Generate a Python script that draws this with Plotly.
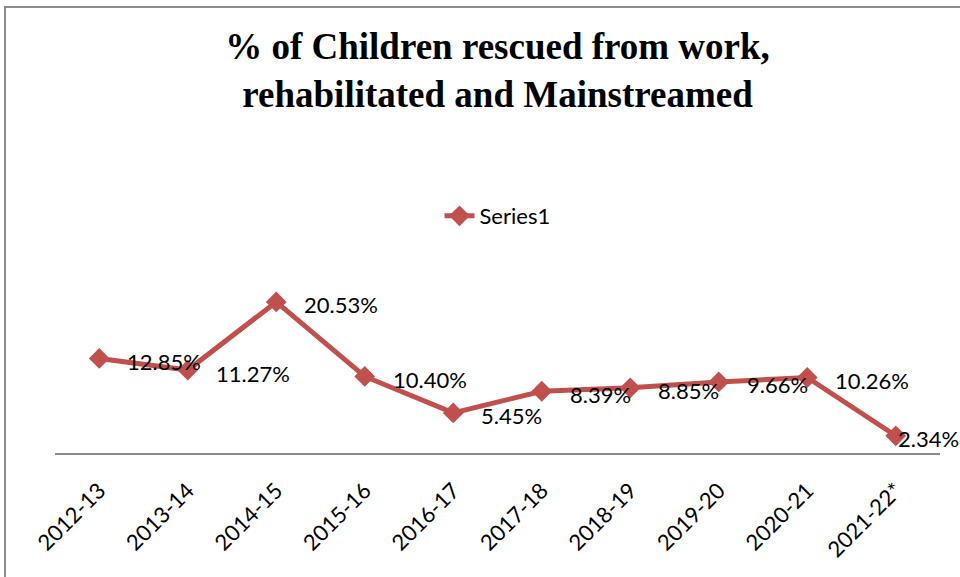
import plotly.graph_objects as go

categories = ["2012-13", "2013-14", "2014-15", "2015-16", "2016-17",
              "2017-18", "2018-19", "2019-20", "2020-21", "2021-22*"]
values = [12.85, 11.27, 20.53, 10.40, 5.45, 8.39, 8.85, 9.66, 10.26, 2.34]
series_name = "Series1"
title_lines = ["% of Children rescued from work,", "rehabilitated and Mainstreamed"]

red = "#C0504D"
label_font = dict(family="Lato, Carlito, Calibri, sans-serif", size=22, color="#000000")

fig = go.Figure()
fig.add_trace(go.Scatter(
    x=categories, y=values, name=series_name,
    mode="lines+markers",
    line=dict(color=red, width=5),
    marker=dict(symbol="diamond", size=16, color=red),
    showlegend=True,
))

n = len(categories)
for i, (c, v) in enumerate(zip(categories, values)):
    shift = 26 if i < n - 1 else 0
    fig.add_annotation(x=c, y=v, text=f"{v:.2f}%", showarrow=False,
                       xanchor="left", yanchor="middle", xshift=shift, yshift=-3,
                       font=label_font)

L, R, T, B = 55, 20, 269, 124
W, H = 960, 577
pw, ph = W - L - R, H - T - B

def px_to_paper_x(px):
    return (px - L) / pw

def px_to_paper_y(py):
    return (H - B - py) / ph

fig.add_shape(type="rect", xref="paper", yref="paper",
              x0=px_to_paper_x(5), x1=px_to_paper_x(975),
              y0=px_to_paper_y(600), y1=px_to_paper_y(7),
              line=dict(color="#8C8C8C", width=2), fillcolor="rgba(0,0,0,0)",
              layer="below")

fig.update_layout(
    width=W, height=H,
    margin=dict(l=L, r=R, t=T, b=B),
    paper_bgcolor="white", plot_bgcolor="white",
    title=dict(text="<br>".join(title_lines), x=0.5, xref="paper",
               y=1 - 59 / H, yanchor="middle",
               font=dict(family="Liberation Serif, Times New Roman, serif", size=37,
                         color="#000000", weight="bold")),
    legend=dict(orientation="h", x=0.5, xanchor="center",
                y=px_to_paper_y(216), yanchor="middle",
                font=label_font, bgcolor="rgba(0,0,0,0)"),
    xaxis=dict(type="category", showline=True, linecolor="#8C8C8C", linewidth=2,
               showgrid=False, ticks="", tickangle=-45, tickfont=dict(
                   family="Lato, Carlito, Calibri, sans-serif", size=22, color="#000000"),
               ticklabelstandoff=14, zeroline=False,
               range=[-0.5, len(categories) - 0.5]),
    yaxis=dict(range=[0, 25], visible=False, showgrid=False, zeroline=False),
)

fig.write_html("out.html")
